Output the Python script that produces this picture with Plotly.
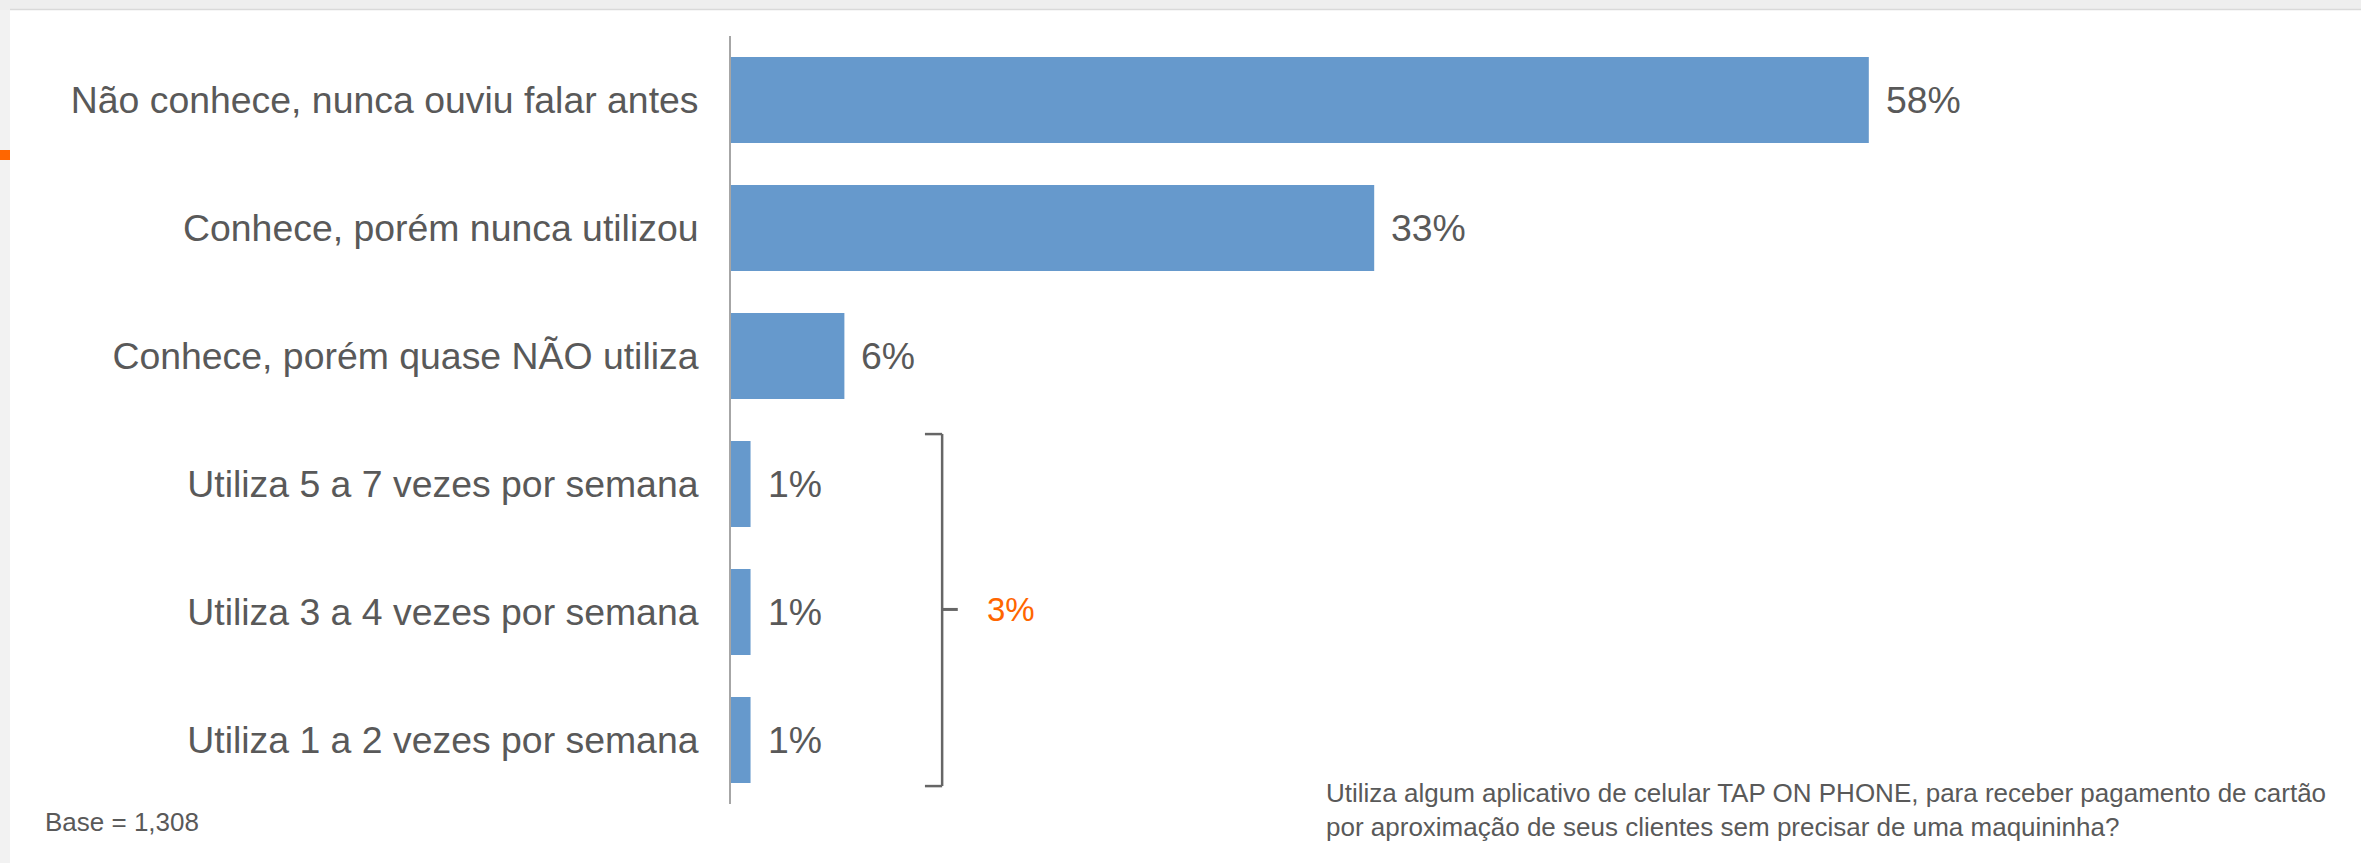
import plotly.graph_objects as go

categories = [
    "Não conhece, nunca ouviu falar antes",
    "Conhece, porém nunca utilizou",
    "Conhece, porém quase NÃO utiliza",
    "Utiliza 5 a 7 vezes por semana",
    "Utiliza 3 a 4 vezes por semana",
    "Utiliza 1 a 2 vezes por semana",
]
values = [58.2, 32.9, 5.8, 1.0, 1.0, 1.0]
value_labels = ["58%", "33%", "6%", "1%", "1%", "1%"]
group_total_label = "3%"
base_text = "Base = 1,308"
question_text = ("Utiliza algum aplicativo de celular TAP ON PHONE, para receber pagamento de cartão<br>"
                 "por aproximação de seus clientes sem precisar de uma maquininha?")

W, H = 2361, 863
ML, MR, MT, MB = 731, 66, 36, 59
PW = W - ML - MR
PH = H - MT - MB
XMAX = 80
FONT = "Liberation Sans, Arial, sans-serif"
TXT = "#595959"
BAR = "#6699CC"
ORANGE = "#FF6600"


def px_x(px):
    return (px - ML) / PW


def px_y(py):
    return (H - MB - py) / PH


fig = go.Figure()
fig.add_trace(go.Bar(
    x=values, y=categories, orientation="h",
    marker=dict(color=BAR, line=dict(width=0)),
    width=0.67, hoverinfo="skip",
))

annotations = []
for c, v, t in zip(categories, values, value_labels):
    annotations.append(dict(x=v, y=c, xref="x", yref="y", text=t, showarrow=False,
                            xanchor="left", yanchor="middle", xshift=15,
                            font=dict(family=FONT, size=37.4, color=TXT)))

# bracket grouping the last three categories
bx = 10.8
y_top, y_bot, y_mid = 2.61, 5.36, 3.98
shapes = [
    dict(type="line", xref="x", yref="y", x0=bx, x1=bx, y0=y_top, y1=y_bot,
         line=dict(color="#666666", width=2.5)),
    dict(type="line", xref="x", yref="y", x0=9.92, x1=bx, y0=y_top, y1=y_top,
         line=dict(color="#666666", width=2.5)),
    dict(type="line", xref="x", yref="y", x0=9.92, x1=bx, y0=y_bot, y1=y_bot,
         line=dict(color="#666666", width=2.5)),
    dict(type="line", xref="x", yref="y", x0=bx, x1=11.6, y0=y_mid, y1=y_mid,
         line=dict(color="#666666", width=3)),
    # page decoration
    dict(type="rect", xref="paper", yref="paper", x0=px_x(0), x1=px_x(W), y0=px_y(0), y1=px_y(10),
         fillcolor="#EEEEEE", line=dict(width=0), layer="below"),
    dict(type="line", xref="paper", yref="paper", x0=px_x(10), x1=px_x(W), y0=px_y(9.5), y1=px_y(9.5),
         line=dict(color="#D9D9D9", width=1.5)),
    dict(type="rect", xref="paper", yref="paper", x0=px_x(0), x1=px_x(10), y0=px_y(10), y1=px_y(H),
         fillcolor="#F2F2F2", line=dict(width=0), layer="below"),
    dict(type="rect", xref="paper", yref="paper", x0=px_x(0), x1=px_x(10), y0=px_y(150), y1=px_y(160),
         fillcolor=ORANGE, line=dict(width=0)),
]

annotations.append(dict(x=13.0, y=y_mid, xref="x", yref="y", text=group_total_label, showarrow=False,
                        xanchor="left", yanchor="middle",
                        font=dict(family=FONT, size=33, color=ORANGE)))
annotations.append(dict(x=px_x(43), y=px_y(822), xref="paper", yref="paper", text=base_text,
                        showarrow=False, xanchor="left", yanchor="middle",
                        font=dict(family=FONT, size=26, color=TXT)))
annotations.append(dict(x=px_x(1324), y=px_y(810), xref="paper", yref="paper", text=question_text,
                        showarrow=False, xanchor="left", yanchor="middle", align="left",
                        font=dict(family=FONT, size=26, color=TXT)))

fig.update_layout(
    width=W, height=H,
    margin=dict(l=ML, r=MR, t=MT, b=MB, pad=0),
    paper_bgcolor="white", plot_bgcolor="white",
    showlegend=False,
    bargap=0.33,
    xaxis=dict(range=[0, XMAX], visible=False, fixedrange=True),
    yaxis=dict(categoryorder="array", categoryarray=categories, autorange="reversed",
               showline=True, linecolor="#A6A6A6", linewidth=2, ticks="",
               showgrid=False, zeroline=False, ticklabelstandoff=23,
               tickfont=dict(family=FONT, size=37.4, color=TXT), fixedrange=True),
    shapes=shapes,
    annotations=annotations,
)

fig.write_html("out.html", config={"displayModeBar": False},
               post_script="document.body.style.margin='0';document.body.style.padding='0';"
                           "document.body.style.overflow='hidden';")
